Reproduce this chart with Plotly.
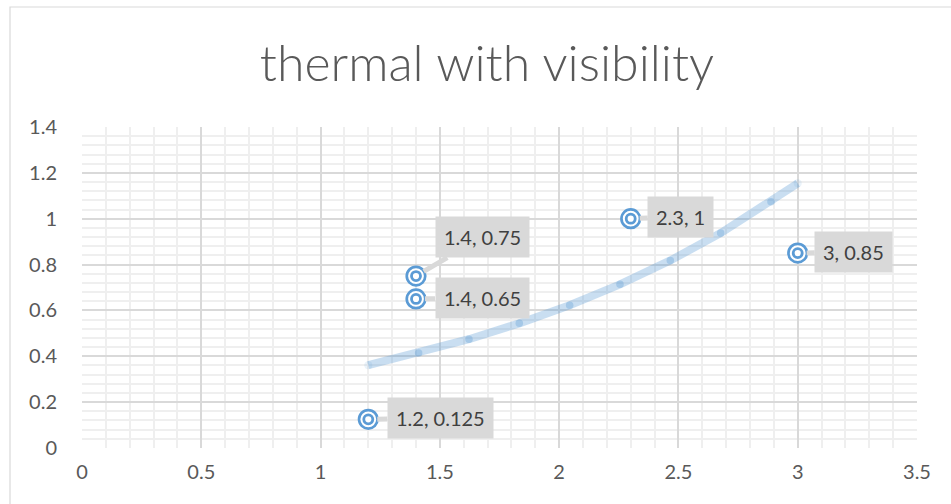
import numpy as np
import plotly.graph_objects as go

# Observations
thermal = [1.2, 1.4, 1.4, 2.3, 3.0]
visibility = [0.125, 0.65, 0.75, 1.0, 0.85]
label_text = ["1.2, 0.125", "1.4, 0.65", "1.4, 0.75", "2.3, 1", "3, 0.85"]
# label offsets from each point, in pixels
label_dx = [72, 66, 66, 50, 56]
label_dy = [-1, -1, -39, -2, -1]

x_ticks = [0, 0.5, 1, 1.5, 2, 2.5, 3, 3.5]
y_ticks = [0, 0.2, 0.4, 0.6, 0.8, 1, 1.2, 1.4]

BLUE = "#5B9BD5"
BAND = "rgba(91,155,213,0.33)"
FONT = "Lato"

# Exponential trendline y = a * exp(b x), least squares on ln(y)
b, ln_a = np.polyfit(np.array(thermal), np.log(np.array(visibility)), 1)
x0, x1 = min(thermal), max(thermal)
seg = 0.211  # trendline segment step along x
joints = x0 + seg * np.arange(1, int((x1 - x0) / seg) + 1)
tx = np.concatenate([[x0], joints, [x1]])
ty = np.exp(ln_a) * np.exp(b * tx)
jy = np.exp(ln_a) * np.exp(b * joints)

fig = go.Figure()

# trendline: translucent polyline, overlapping caps darken the joints
fig.add_trace(go.Scatter(
    x=tx, y=ty, mode="lines", hoverinfo="skip",
    line=dict(color=BAND, width=8),
))
fig.add_trace(go.Scatter(
    x=joints, y=jy, mode="markers", hoverinfo="skip",
    marker=dict(symbol="circle", size=7.5, color=BAND, line=dict(width=0)),
))
fig.add_trace(go.Scatter(
    x=[x0, x1], y=[ty[0], ty[-1]], mode="markers", hoverinfo="skip",
    marker=dict(symbol="circle", size=8, color="rgba(91,155,213,0.12)", line=dict(width=0)),
))

# target-style markers: outer ring with white fill, inner ring
fig.add_trace(go.Scatter(
    x=thermal, y=visibility, mode="markers",
    marker=dict(symbol="circle", size=18.5, color="white",
                line=dict(color=BLUE, width=2.7)),
))
fig.add_trace(go.Scatter(
    x=thermal, y=visibility, mode="markers", hoverinfo="skip",
    marker=dict(symbol="circle-open", size=9, color=BLUE,
                line=dict(color=BLUE, width=2.8)),
))

for xv, yv, t, dx, dy in zip(thermal, visibility, label_text, label_dx, label_dy):
    fig.add_annotation(
        x=xv, y=yv, text=t, showarrow=True, ax=dx, ay=dy,
        arrowhead=0, arrowwidth=5, arrowcolor="#D9D9D9", standoff=9,
        bgcolor="#D9D9D9", borderpad=8,
        font=dict(family=FONT, size=20, color="#404040"),
    )

# outer chart frame
L, R, T, B = 82, 917, 127, 448
pw, ph = R - L, B - T
fig.add_shape(
    type="rect", xref="paper", yref="paper",
    x0=(10 - L) / pw, x1=(990 - L) / pw,
    y0=(B - 520) / ph, y1=(B - 7) / ph,
    line=dict(color="#D9D9D9", width=1.2), fillcolor="rgba(0,0,0,0)", layer="below",
)

axis_common = dict(
    showgrid=True, gridcolor="#D9D9D9", gridwidth=1.5,
    zeroline=False, showline=False, ticks="",
    tickfont=dict(family=FONT, size=20, color="#595959"),
)

fig.update_xaxes(
    range=[0, 3.5], tickvals=x_ticks, ticktext=[f"{v:g}" for v in x_ticks],
    minor=dict(dtick=0.1, showgrid=True, gridcolor="#EFEFEF", gridwidth=1.5),
    ticklabelstandoff=10,
    **axis_common,
)
fig.update_yaxes(
    range=[0, 1.4], tickvals=y_ticks, ticktext=[f"{v:g}" for v in y_ticks],
    minor=dict(dtick=0.04, showgrid=True, gridcolor="#EFEFEF", gridwidth=1.5),
    ticklabelstandoff=24,
    **axis_common,
)

fig.update_layout(
    width=951, height=504, autosize=False,
    margin=dict(l=L, r=951 - R, t=T, b=504 - B),
    paper_bgcolor="white", plot_bgcolor="white",
    showlegend=False,
    title=dict(
        text="thermal with visibility", x=487 / 951, xref="container", xanchor="center",
        y=1 - 63 / 504, yanchor="middle",
        font=dict(family=FONT, size=50, color="#595959", weight=300),
    ),
)

fig.write_html("out.html")
